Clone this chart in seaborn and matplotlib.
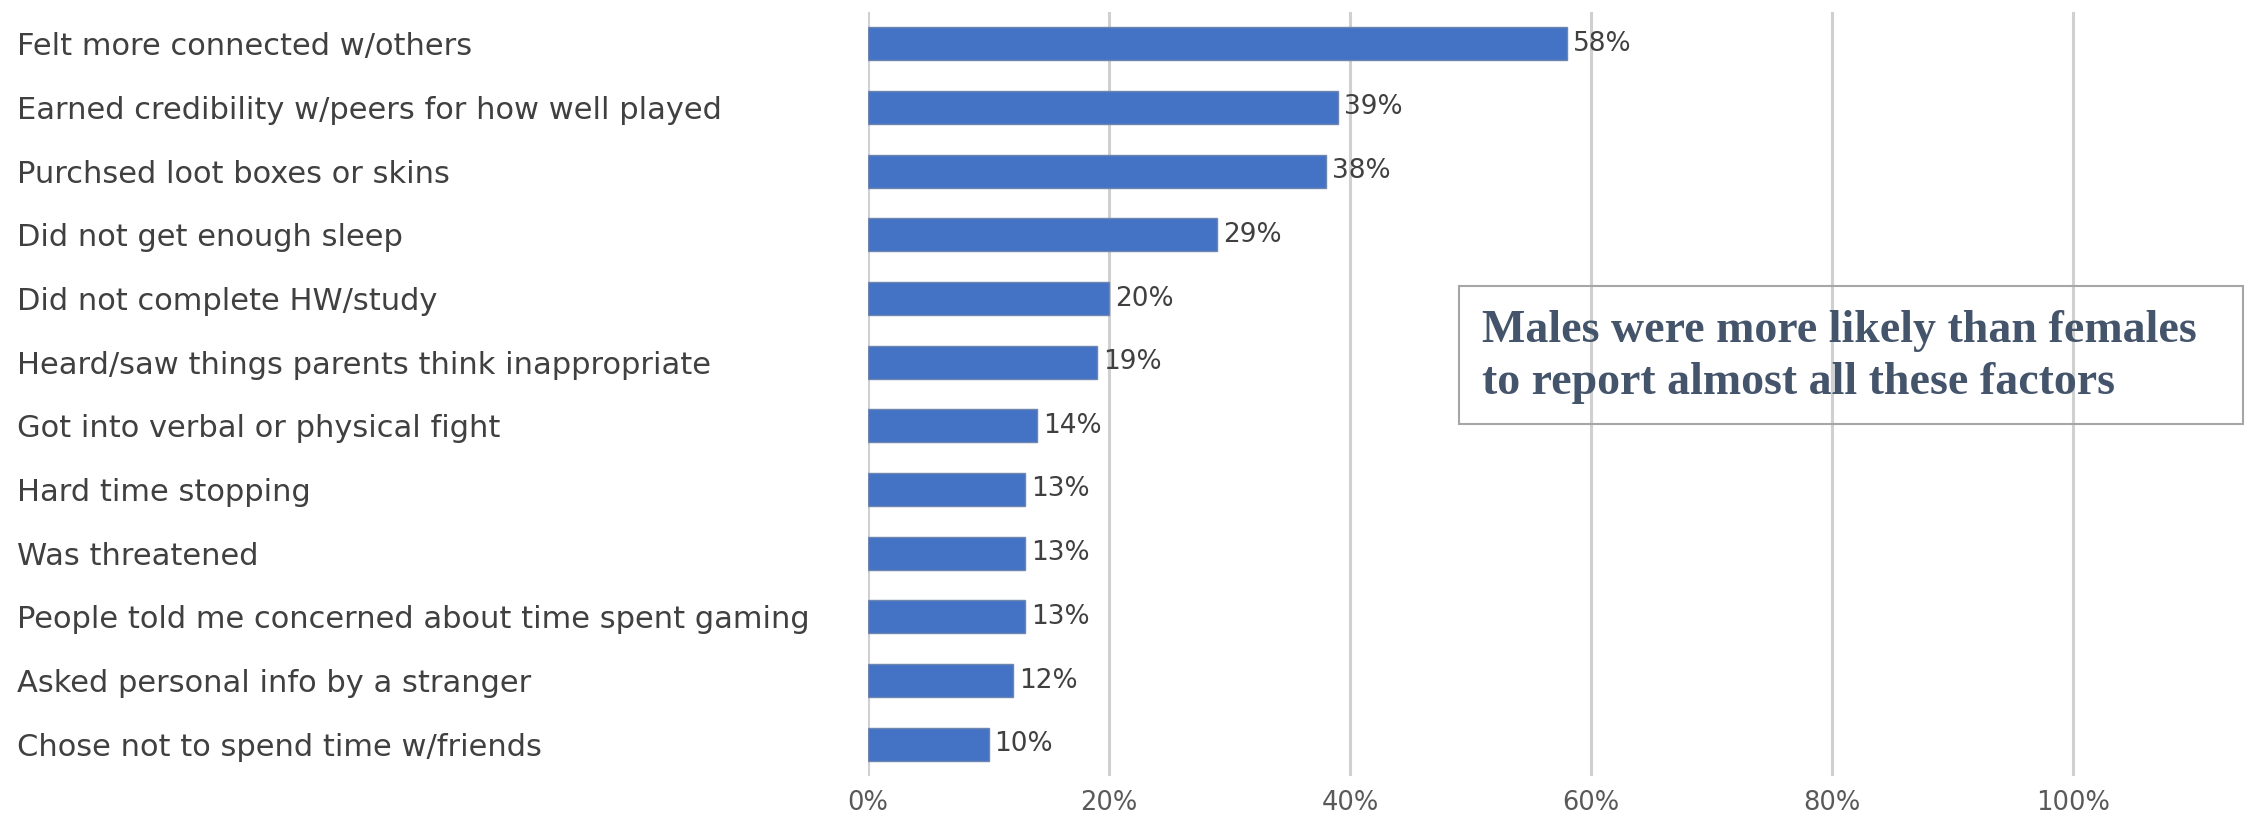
import matplotlib
matplotlib.use("Agg")
import matplotlib.pyplot as plt
import seaborn as sns
import pandas as pd
from matplotlib.patches import Rectangle

categories = [
    "Felt more connected w/others",
    "Earned credibility w/peers for how well played",
    "Purchsed loot boxes or skins",
    "Did not get enough sleep",
    "Did not complete HW/study",
    "Heard/saw things parents think inappropriate",
    "Got into verbal or physical fight",
    "Hard time stopping",
    "Was threatened",
    "People told me concerned about time spent gaming",
    "Asked personal info by a stranger",
    "Chose not to spend time w/friends",
]
values = [0.58, 0.39, 0.38, 0.29, 0.20, 0.19, 0.14, 0.13, 0.13, 0.13, 0.12, 0.10]
xticks = [0, 0.2, 0.4, 0.6, 0.8, 1.0]
note = "Males were more likely than females\nto report almost all these factors"

sns.set_theme(style="white")
plt.rcParams["font.family"] = ["DejaVu Sans"]

df = pd.DataFrame({"item": categories, "share": values})

W, H, DPI = 2252, 818, 100
fig = plt.figure(figsize=(W / DPI, H / DPI), dpi=DPI)
ax = fig.add_axes([868 / W, 1 - 776 / H, 1 - 868 / W, (776 - 12) / H])

# gridlines first so bars sit on top
for t in xticks:
    ax.axvline(t, color="#d0d0d0", linewidth=2.2, zorder=0)

sns.barplot(data=df, x="share", y="item", color="#4472C4", orient="h",
            width=0.52, edgecolor="#6f86b0", linewidth=1.0, saturation=1,
            ax=ax, zorder=2)

for i, v in enumerate(values):
    ax.text(v + 0.005, i, f"{round(v * 100)}%", va="center", ha="left",
            fontsize=19, color="#404040")

ax.set_xlim(0, 1.1485)
ax.set_ylim(len(categories) - 0.5, -0.5)
ax.set_xticks(xticks)
ax.set_xticklabels([f"{round(t * 100)}%" for t in xticks], fontsize=18.5, color="#595959")
ax.tick_params(axis="x", length=0, pad=10)
ax.tick_params(axis="y", length=0, pad=851 * 0.72)
for lab in ax.get_yticklabels():
    lab.set_horizontalalignment("left")
    lab.set_fontsize(22)
    lab.set_color("#404040")
ax.set_xlabel("")
ax.set_ylabel("")
for s in ax.spines.values():
    s.set_visible(False)

# callout box (transparent, grid shows through)
fig.patches.append(Rectangle((1459 / W, 1 - 424 / H), (2243 - 1459) / W, 138 / H,
                             transform=fig.transFigure, fill=False,
                             edgecolor="#a6a6a6", linewidth=1.5, zorder=5))
fig.text(1482 / W, 1 - 357 / H, note, ha="left", va="center",
         family=["Liberation Serif"], fontweight="bold", fontsize=33,
         color="#44546A", linespacing=1.3)

fig.savefig("out.png", dpi=DPI)
